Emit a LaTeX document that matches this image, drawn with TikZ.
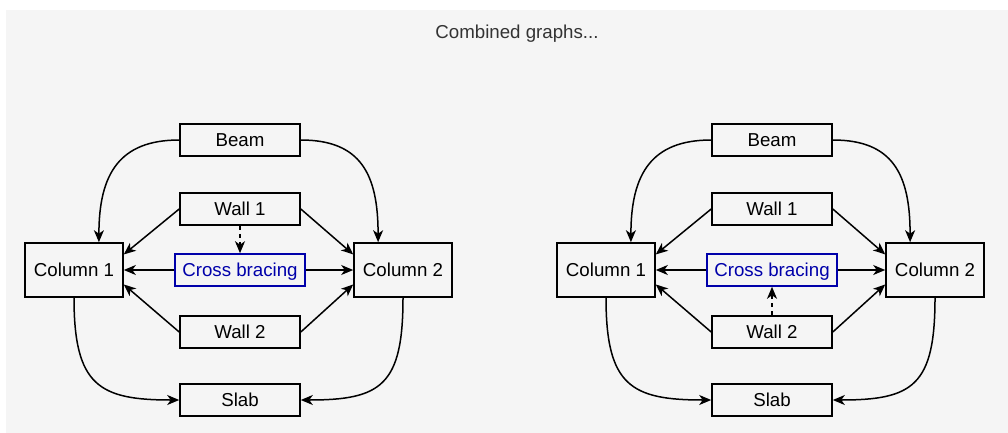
\documentclass[tikz,border=0pt]{standalone}
\usepackage{fontspec}
\setmainfont{Liberation Sans}
\usetikzlibrary{arrows.meta,calc}
\definecolor{panel}{HTML}{F5F5F5}
\definecolor{brace}{HTML}{0000AA}
\definecolor{titlegray}{HTML}{333333}
\tikzset{
  box/.style={draw=black, line width=1.6pt, fill=panel, minimum width=120pt,
    minimum height=32pt, inner sep=0pt, text height=13.4pt, text depth=0pt,
    font=\fontsize{18.7}{22}\selectfont},
  colbox/.style={box, minimum width=98pt, minimum height=54pt},
  bracebox/.style={box, draw=brace, text=brace, minimum width=130pt},
  link/.style={line width=1.5pt, -{Stealth[length=12pt,width=10pt,inset=3.5pt]}},
  dlink/.style={link, dash pattern=on 4pt off 4pt}
}
\newcommand{\structgraph}[3]{%
  % #1 = horizontal offset, #2 = name prefix, #3 = 1 for wall 1 bracing, 2 for wall 2
  \begin{scope}[xshift=#1pt]
    \node[box] (#2beam) at (240,140) {Beam};
    \node[box] (#2wallA) at (240,209) {Wall 1};
    \node[colbox] (#2colA) at (74,270) {Column 1};
    \node[colbox] (#2colB) at (403,270) {Column 2};
    \node[bracebox] (#2cross) at (240,270) {Cross bracing};
    \node[box] (#2wallB) at (240,332) {Wall 2};
    \node[box] (#2slab) at (240,400) {Slab};
    % beam onto the columns
    \draw[link] (#2beam.west) .. controls +(-60,0) and +(0,-68) .. ($(#2colA.north west)!0.75!(#2colA.north east)$);
    \draw[link] (#2beam.east) .. controls +(60,0) and +(0,-68) .. ($(#2colB.north west)!0.25!(#2colB.north east)$);
    % walls onto the columns
    \draw[link] (#2wallA.west) -- ($(#2colA.north east)!0.22!(#2colA.south east)$);
    \draw[link] (#2wallA.east) -- ($(#2colB.north west)!0.22!(#2colB.south west)$);
    \draw[link] (#2wallB.west) -- ($(#2colA.north east)!0.76!(#2colA.south east)$);
    \draw[link] (#2wallB.east) -- ($(#2colB.north west)!0.76!(#2colB.south west)$);
    % bracing onto the columns
    \draw[link] (#2cross.west) -- (#2colA.east);
    \draw[link] (#2cross.east) -- (#2colB.west);
    % columns onto the slab
    \draw[link] (#2colA.south) .. controls +(0,88) and +(-80,0) .. (#2slab.west);
    \draw[link] (#2colB.south) .. controls +(0,88) and +(80,0) .. (#2slab.east);
    % bracing tie
    \ifnum#3=1
      \draw[dlink] (#2wallA.south) -- (#2cross.north);
    \else
      \draw[dlink] (#2wallB.north) -- (#2cross.south);
    \fi
  \end{scope}}
\begin{document}
\begin{tikzpicture}[x=1pt, y=-1pt]
  \useasboundingbox (0,0) rectangle (1008,433);
  \fill[white] (0,0) rectangle (1008,433);
  \fill[panel] (6,10) rectangle (1008,433);
  \node[text=titlegray, font=\fontsize{18.7}{22}\selectfont] (title) at (517,34) {Combined graphs...};
  \structgraph{0}{l}{1}
  \structgraph{532}{r}{2}
\end{tikzpicture}
\end{document}
